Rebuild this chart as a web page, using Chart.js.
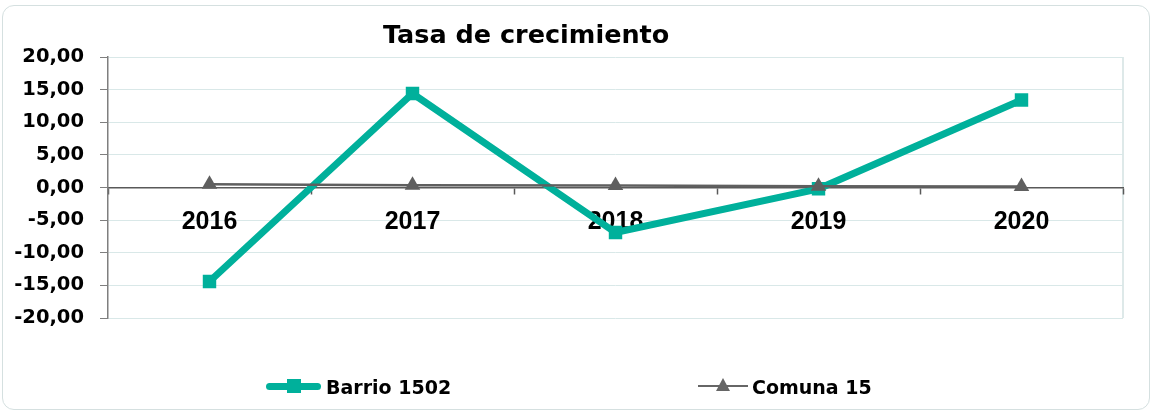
<!DOCTYPE html>
<html>
<head>
<meta charset="utf-8">
<script src="https://cdn.jsdelivr.net/npm/chart.js@4"></script>
<style>
    html, body { margin: 0; padding: 0; background: #fff; }
    #marco { position: relative; width: 1153px; height: 412px; overflow: hidden; }
    #borde { position: absolute; left: 2px; top: 5px; width: 1146px; height: 403px; border: 1px solid #d5e0e0; border-radius: 12px; }
    #caja { position: absolute; left: 0; top: 0; width: 1153px; height: 412px; }
    .titulo { position: absolute; left: 383px; top: 22px; font: bold 25.5px "DejaVu Sans"; line-height: 25px; white-space: nowrap; color: #000; }
    .leyenda { position: absolute; top: 378px; font: bold 19px "DejaVu Sans"; line-height: 18px; white-space: nowrap; color: #000; }
    .linea { position: absolute; }
</style>
</head>
<body>
<div id="marco">
    <div id="borde"></div>
    <div id="caja"><canvas id="grafico"></canvas></div>
    <div class="titulo">Tasa de crecimiento</div>

    <!-- leyenda -->
    <div class="linea" style="left:266px; top:383px; width:55px; height:7px; background:#00b09b; border-radius:4px;"></div>
    <div class="linea" style="left:287px; top:379px; width:14px; height:14px; background:#00b09b;"></div>
    <div class="leyenda" style="left:326px;">Barrio 1502</div>

    <div class="linea" style="left:698px; top:385px; width:50px; height:2px; background:#666;"></div>
    <div class="linea" style="left:716px; top:378px; width:0; height:0; border-left:7px solid transparent; border-right:7px solid transparent; border-bottom:13px solid #666;"></div>
    <div class="leyenda" style="left:752px;">Comuna 15</div>
</div>

<script>
// Datos
const anios = ["2016", "2017", "2018", "2019", "2020"];
const barrio1502 = [-14.4, 14.4, -6.9, -0.2, 13.4];
const comuna15 = [0.5, 0.35, 0.3, 0.2, 0.15];
const yTicks = [-20, -15, -10, -5, 0, 5, 10, 15, 20];

// borde derecho del area del grafico
const bordeArea = {
    id: "bordeArea",
    beforeDraw(chart) {
        const { ctx, chartArea } = chart;
        ctx.save();
        ctx.strokeStyle = "#d3e2e2";
        ctx.lineWidth = 1.5;
        ctx.beginPath();
        ctx.moveTo(chartArea.right, chartArea.top);
        ctx.lineTo(chartArea.right, chartArea.bottom);
        ctx.stroke();
        ctx.restore();
    }
};

const ctx = document.getElementById("grafico").getContext("2d");

new Chart(ctx, {
    type: "line",
    data: {
        labels: anios,
        datasets: [
            {
                label: "Barrio 1502",
                data: barrio1502,
                borderColor: "#00b09b",
                backgroundColor: "#00b09b",
                borderWidth: 7,
                pointStyle: "rect",
                pointRadius: 9.5,
                pointBorderWidth: 0,
                pointBackgroundColor: "#00b09b",
                tension: 0,
                order: 1
            },
            {
                label: "Comuna 15",
                data: comuna15,
                borderColor: "#5f5f5f",
                backgroundColor: "#5f5f5f",
                borderWidth: 2.5,
                pointStyle: "triangle",
                pointRadius: 9,
                pointBorderWidth: 0,
                pointBackgroundColor: "#5f5f5f",
                tension: 0,
                order: 0
            }
        ]
    },
    options: {
        responsive: true,
        maintainAspectRatio: false,
        animation: false,
        layout: {
            padding: { top: 57, right: 30, bottom: 94, left: 0 }
        },
        plugins: {
            legend: { display: false },
            title: { display: false },
            tooltip: { enabled: false }
        },
        scales: {
            x: {
                type: "category",
                offset: true,
                position: { y: 0 },
                grid: {
                    offset: true,
                    drawOnChartArea: false,
                    drawTicks: true,
                    tickLength: 6,
                    tickColor: "#595959",
                    tickWidth: 1.5
                },
                border: { color: "#595959", width: 1.5 },
                ticks: {
                    font: { family: "Liberation Sans", size: 25, weight: "bold" },
                    color: "#000",
                    padding: 14,
                    maxRotation: 0,
                    autoSkip: false
                }
            },
            y: {
                min: -20,
                max: 20,
                afterBuildTicks: scale => {
                    scale.ticks = yTicks.map(v => ({ value: v }));
                },
                afterFit: scale => {
                    scale.width = 108;
                },
                grid: {
                    color: "#d9e8e8",
                    lineWidth: 1,
                    tickColor: "#7f7f7f",
                    tickLength: 8
                },
                border: { color: "#7f7f7f", width: 1.5 },
                ticks: {
                    callback: v => v.toFixed(2).replace(".", ","),
                    font: { family: "DejaVu Sans", size: 19.5, weight: "bold" },
                    color: "#000",
                    padding: 16
                }
            }
        }
    },
    plugins: [bordeArea]
});
</script>
</body>
</html>
